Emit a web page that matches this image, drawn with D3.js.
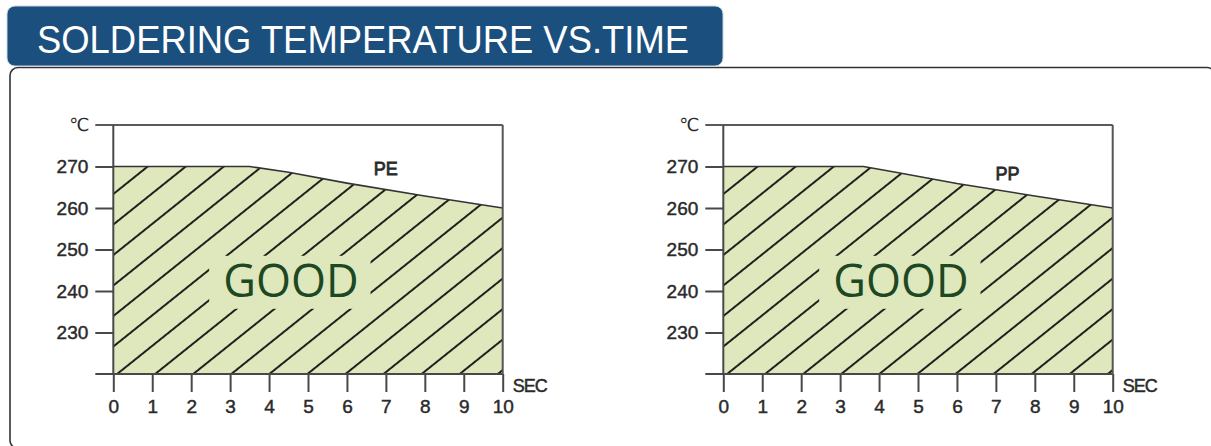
<!DOCTYPE html>
<html>
<head>
<meta charset="utf-8">
<script src="https://cdn.jsdelivr.net/npm/d3@7"></script>
<style>
  html,body{margin:0;padding:0;background:#fff;}
  svg{display:block;}
</style>
</head>
<body>
<svg id="c" width="1211" height="446"></svg>
<script>
// ---- data ----
const titleText = "SOLDERING TEMPERATURE VS.TIME";
const secondTicks = [0,1,2,3,4,5,6,7,8,9,10];
const tempTicks = [230,240,250,260,270];
const tempDomain = [220,280];
const timeDomain = [0,10];
const peTime = [0, 3.5, 4.5, 6, 8, 10];
const peTemp = [270, 270, 268.6, 266, 262.9, 260];
const ppTime = [0, 3.6, 4.5, 6, 8, 10];
const ppTemp = [270, 270, 268.5, 265.9, 262.9, 260];
const seriesNames = ["PE","PP"];
const goodLabel = "GOOD";
const unitY = "℃";
const unitX = "SEC";

(function(){
// ---- layout ----
const svg = d3.select("#c");
const fillColor = "#dfe7bd";
const axisColor = "#484848";
const txtColor = "#2a2a2a";
const sans = "'Liberation Sans', Arial, sans-serif";

// panel
svg.append("rect").attr("x",10).attr("y",67.5).attr("width",1205).attr("height",381)
  .attr("rx",8).attr("fill","#fff").attr("stroke","#333").attr("stroke-width",1.6);
// header
svg.append("rect").attr("x",7).attr("y",6).attr("width",716).attr("height",60)
  .attr("rx",8).attr("fill","#1b4f7d").attr("stroke","#c9d6e2").attr("stroke-width",1);
svg.append("text").attr("x",37).attr("y",53).text(titleText)
  .attr("font-family",sans).attr("font-size",38.5)
  .attr("fill","#fff").attr("textLength",652).attr("lengthAdjust","spacingAndGlyphs");

const defs = svg.append("defs");

const charts = [
  {name: seriesNames[0], time: peTime, temp: peTemp, left: 113.3, labelAt:[7.0,269.6]},
  {name: seriesNames[1], time: ppTime, temp: ppTemp, left: 723.3, labelAt:[7.3,268.3]}
];

const plotW = 389.4, plotTop = 125, plotBottom = 374;

function styleText(sel, size){
  sel.attr("font-family",sans).attr("font-size",size).attr("fill",txtColor)
    .attr("stroke",txtColor).attr("stroke-width",0.45);
}

charts.forEach((c, i) => {
  const x = d3.scaleLinear().domain(timeDomain).range([c.left, c.left + plotW]);
  const y = d3.scaleLinear().domain(tempDomain).range([plotBottom, plotTop]);
  const pts = c.time.map((t, k) => [t, c.temp[k]]);
  const g = svg.append("g");

  // clip + hatch pattern
  const area = d3.area().x(d => x(d[0])).y0(y(tempDomain[0])).y1(d => y(d[1]));
  defs.append("clipPath").attr("id","clip"+i).append("path").attr("d", area(pts));
  const sp = 23.8, ang = -38.7;
  const pat = defs.append("pattern").attr("id","hatch"+i)
    .attr("patternUnits","userSpaceOnUse").attr("width",20).attr("height",sp)
    .attr("patternTransform",`translate(${x(0)+3.8},${y(tempDomain[0])}) rotate(${ang}) translate(0,${-sp/2})`);
  pat.append("rect").attr("width",20).attr("height",sp).attr("fill",fillColor);
  pat.append("line").attr("x1",-1).attr("x2",21).attr("y1",sp/2).attr("y2",sp/2)
    .attr("stroke","#161616").attr("stroke-width",1.9);

  g.append("path").attr("d", area(pts)).attr("fill","url(#hatch"+i+")");

  // GOOD label with gap in hatch
  const gg = g.append("g").attr("clip-path","url(#clip"+i+")");
  const gx = x(4.56), gy = y(238.6);
  const gapRect = gg.append("rect").attr("fill",fillColor);
  const gt = gg.append("text").attr("x",gx).attr("y",gy).attr("text-anchor","middle")
    .attr("font-family","'Open Sans', sans-serif").attr("font-size",45)
    .attr("fill","#1d4824").text(goodLabel);
  const bb = gt.node().getBBox();
  gapRect.attr("x",bb.x-14).attr("width",bb.width+26).attr("y",gy-41).attr("height",53);

  // top curve outline
  g.append("path").attr("d", d3.line().x(d => x(d[0])).y(d => y(d[1]))(pts))
    .attr("fill","none").attr("stroke","#333").attr("stroke-width",1.6);

  // frame lines: top (280) and baseline (220) extended left
  [tempDomain[1], tempDomain[0]].forEach(v => {
    g.append("line").attr("x1",c.left-18).attr("x2",x(10)).attr("y1",y(v)).attr("y2",y(v))
      .attr("stroke", v===tempDomain[1] ? "#5a5a5a" : axisColor).attr("stroke-width",2);
  });
  // left axis and right edge
  g.append("line").attr("x1",x(0)).attr("x2",x(0)).attr("y1",y(tempDomain[1])).attr("y2",y(tempDomain[0]))
    .attr("stroke",axisColor).attr("stroke-width",2);
  g.append("line").attr("x1",x(10)).attr("x2",x(10)).attr("y1",y(tempDomain[1])).attr("y2",y(tempDomain[0]))
    .attr("stroke","#555").attr("stroke-width",2);

  // y axis
  const ya = g.append("g").attr("transform",`translate(${x(0)},0)`)
    .call(d3.axisLeft(y).tickValues(tempTicks).tickSize(18).tickPadding(7));
  ya.select(".domain").remove();
  ya.selectAll("line").attr("stroke",axisColor).attr("stroke-width",2);
  styleText(ya.selectAll("text"), 19);

  // x axis
  const xa = g.append("g").attr("transform",`translate(0,${y(tempDomain[0])})`)
    .call(d3.axisBottom(x).tickValues(secondTicks).tickSize(18).tickPadding(8));
  xa.select(".domain").remove();
  xa.selectAll("line").attr("stroke",axisColor).attr("stroke-width",2);
  styleText(xa.selectAll("text"), 19);

  // units
  g.append("text").attr("x",c.left-35).attr("y",y(tempDomain[1])).attr("dy","0.35em")
    .attr("text-anchor","middle").attr("font-family","'DejaVu Sans', sans-serif")
    .attr("font-size",18).attr("fill",txtColor).attr("letter-spacing",-2).text(unitY);
  const sec = g.append("text").attr("x",x(10)+10).attr("y",y(tempDomain[0])+17.5)
    .attr("letter-spacing",-1).text(unitX);
  styleText(sec, 18);

  // series name
  const nm = g.append("text").attr("x",x(c.labelAt[0])).attr("y",y(c.labelAt[1])).attr("dy","0.36em")
    .attr("text-anchor","middle").text(c.name);
  styleText(nm, 18);
  nm.attr("stroke-width",0.8);
});
})();
</script>
</body>
</html>
